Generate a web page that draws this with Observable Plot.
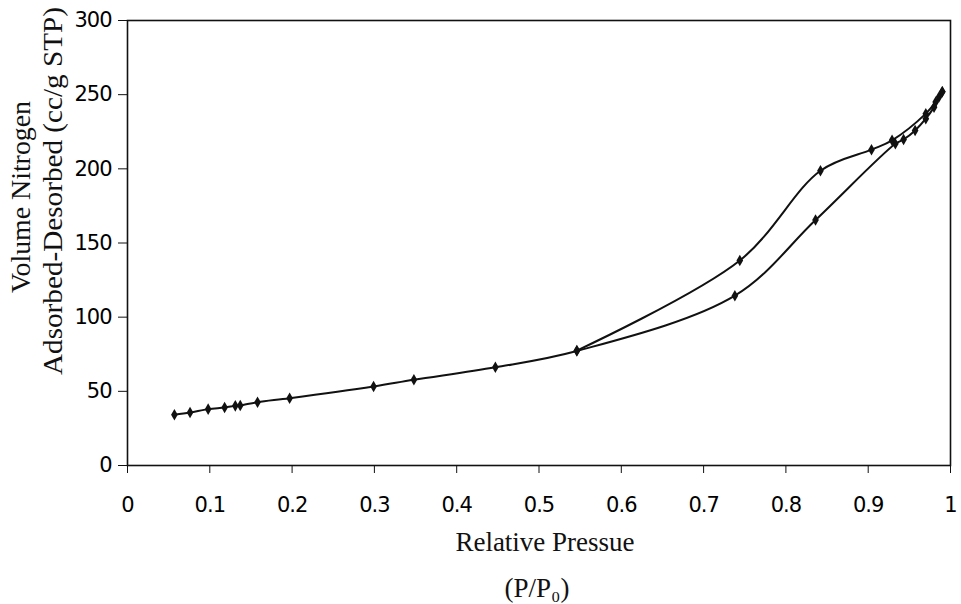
<!DOCTYPE html>
<html>
<head>
<meta charset="utf-8">
<script src="https://cdn.jsdelivr.net/npm/d3@7"></script>
<script src="https://cdn.jsdelivr.net/npm/@observablehq/plot@0.6"></script>
<style>
  html, body { margin: 0; padding: 0; background: #fff; }
  svg [aria-label="x-axis tick label"] text,
  svg [aria-label="y-axis tick label"] text { letter-spacing: -1px; }
</style>
</head>
<body>
<div id="chart"></div>
<script>
// Adsorption branch (relative pressure, volume cc/g STP)
const adsP = [0.057, 0.076, 0.098, 0.118, 0.131, 0.137, 0.158, 0.197, 0.299, 0.348, 0.447, 0.546, 0.738, 0.836, 0.933, 0.943, 0.957, 0.970, 0.980, 0.990];
const adsV = [34.2, 35.7, 38.0, 39.1, 40.2, 40.5, 42.7, 45.4, 53.3, 57.8, 66.2, 77.2, 114.5, 165.5, 216.9, 219.8, 225.9, 233.8, 241.6, 252.0];
// Desorption branch
const desP = [0.990, 0.986, 0.982, 0.970, 0.929, 0.904, 0.842, 0.744, 0.546];
const desV = [252.0, 248.4, 245.0, 237.2, 219.2, 212.9, 198.7, 138.2, 77.5];

const xTicks = [0, 0.1, 0.2, 0.3, 0.4, 0.5, 0.6, 0.7, 0.8, 0.9, 1];
const yTicks = [0, 50, 100, 150, 200, 250, 300];

const xTitle1 = "Relative Pressue";
const xTitle2 = "(P/P₀)";
const yTitle1 = "Volume Nitrogen";
const yTitle2 = "Adsorbed-Desorbed (cc/g STP)";

const ads = adsP.map((p, i) => ({p, v: adsV[i]}));
const des = desP.map((p, i) => ({p, v: desV[i]}));

const serif = "'Liberation Serif', 'Times New Roman', serif";

const chart = Plot.plot({
  width: 961,
  height: 604,
  marginLeft: 127,
  marginRight: 11,
  marginTop: 20,
  marginBottom: 139,
  style: {background: "#fff", fontFamily: "'DejaVu Sans', sans-serif", color: "#000"},
  x: {domain: [0, 1], ticks: xTicks, tickFormat: d => String(d)},
  y: {domain: [0, 300], ticks: yTicks},
  marks: [
    Plot.frame({stroke: "#111", strokeWidth: 1.6}),
    Plot.axisX({ticks: xTicks, tickFormat: d => String(d), tickSize: 8, tickPadding: 24, fontSize: 21, label: null, stroke: "#111"}),
    Plot.axisY({ticks: yTicks, tickSize: 9, tickPadding: 7, fontSize: 21, label: null, stroke: "#111"}),
    Plot.line(ads, {x: "p", y: "v", curve: "catmull-rom", stroke: "#111", strokeWidth: 2}),
    Plot.line(des, {x: "p", y: "v", curve: "catmull-rom", stroke: "#111", strokeWidth: 2}),
    Plot.dot(ads, {x: "p", y: "v", symbol: "diamond", r: 3.5, fill: "#111", stroke: "none"}),
    Plot.dot(des, {x: "p", y: "v", symbol: "diamond", r: 3.5, fill: "#111", stroke: "none"}),
    Plot.text([xTitle1], {frameAnchor: "bottom", textAnchor: "middle", lineAnchor: "middle", dx: 6, dy: 77, fontSize: 27, fontFamily: serif, fill: "#111"}),
    Plot.text([xTitle2], {frameAnchor: "bottom", textAnchor: "middle", lineAnchor: "middle", dx: -2, dy: 123, fontSize: 27, fontFamily: serif, fill: "#111"}),
    Plot.text([yTitle1], {frameAnchor: "left", textAnchor: "middle", lineAnchor: "middle", dx: -106, dy: -46, rotate: -90, fontSize: 27, fontFamily: serif, fill: "#111", className: "yt1"}),
    Plot.text([yTitle2], {frameAnchor: "left", textAnchor: "middle", lineAnchor: "middle", dx: -74, dy: -52, rotate: -90, fontSize: 27, fontFamily: serif, fill: "#111", className: "yt2"})
  ]
});

// match the rotated y-axis titles to the reference's length
d3.select(chart).selectAll("g.yt1 text").attr("textLength", 192).attr("lengthAdjust", "spacingAndGlyphs");
d3.select(chart).selectAll("g.yt2 text").attr("textLength", 368).attr("lengthAdjust", "spacingAndGlyphs");

document.getElementById("chart").appendChild(chart);
</script>
</body>
</html>
